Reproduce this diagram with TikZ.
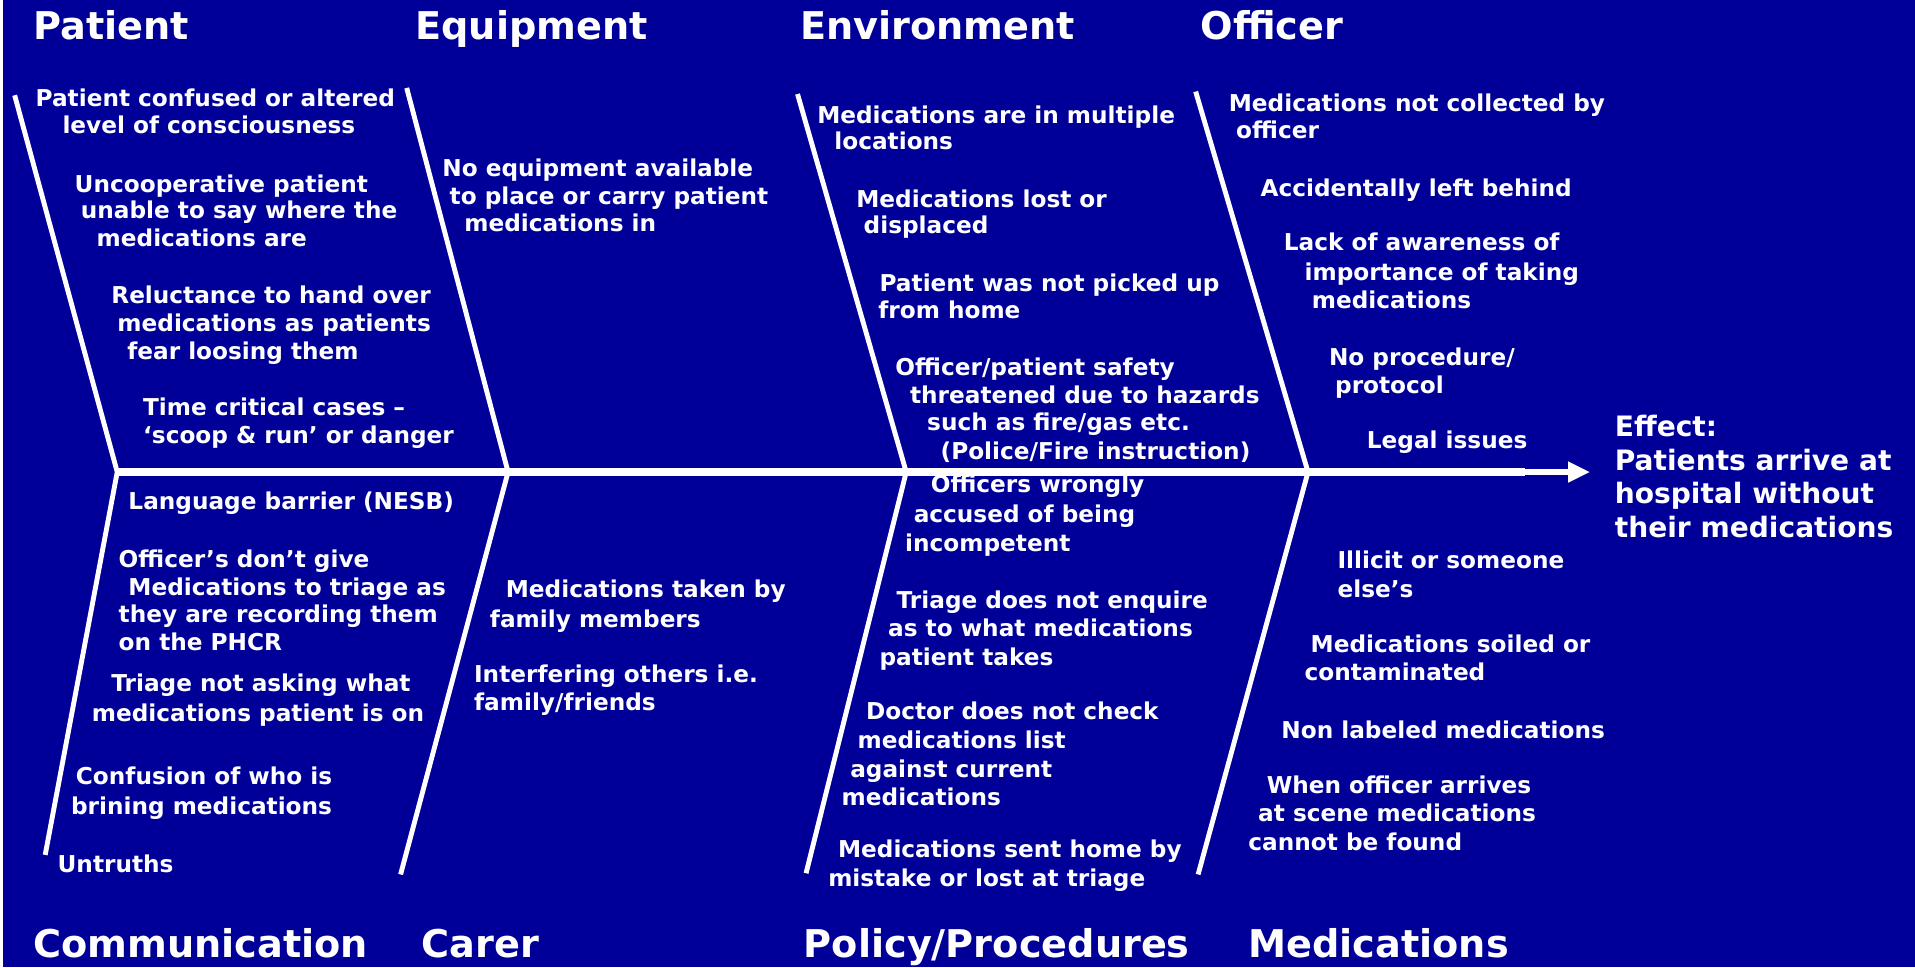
\documentclass[tikz,border=0pt]{standalone}
\usepackage{fontspec}
\setmainfont{DejaVu Sans}
\usetikzlibrary{arrows.meta}
\definecolor{bgblue}{RGB}{0,0,153}
\newcommand{\fbl}[4]{\node[it] (#1) at (#2,#3+6.5) {#4};}
\begin{document}
\begin{tikzpicture}[x=1pt,y=-1pt,
  it/.style={anchor=base west, inner sep=0pt, text=white, font=\bfseries\fontsize{19}{22}\selectfont},
  ttl/.style={anchor=base west, inner sep=0pt, text=white, font=\bfseries\fontsize{31.3}{36}\selectfont},
  eff/.style={anchor=base west, inner sep=0pt, text=white, font=\bfseries\fontsize{23}{28}\selectfont},
  bone/.style={draw=white, line width=4pt},
  spine/.style={draw=white, line width=6.5pt}]
\useasboundingbox (0,0) rectangle (1568,792);
\fill[white] (0,0) rectangle (2.5,792);
\fill[bgblue] (2.5,0) rectangle (1568,792);
% spine junctions
\coordinate (j1) at (96,386.5);
\coordinate (j2) at (416,386.5);
\coordinate (j3) at (742,386.5);
\coordinate (j4) at (1071,386.5);
\coordinate (thin) at (1249,386.5);
\coordinate (tip) at (1302,386.5);
\coordinate (t1) at (12,78);
\coordinate (t2) at (333,72);
\coordinate (t3) at (653,77);
\coordinate (t4) at (979,75);
\coordinate (b1) at (37,700);
\coordinate (b2) at (328,716);
\coordinate (b3) at (660,715);
\coordinate (b4) at (981,716);
\draw[spine] (j1) -- (thin);
\draw[draw=white, line width=4.5pt, -{Triangle[length=18pt,width=16pt]}] (thin) -- (tip);
\draw[bone] (t1) -- (j1) -- (b1);
\draw[bone] (t2) -- (j2) -- (b2);
\draw[bone] (t3) -- (j3) -- (b3);
\draw[bone] (t4) -- (j4) -- (b4);
% titles
\node[ttl] (hPat) at (27,32) {Patient};
\node[ttl] (hEqu) at (340,32) {Equipment};
\node[ttl] (hEnv) at (655,32) {Environment};
\node[ttl] (hOff) at (983,32) {Officer};
\node[ttl] (hCom) at (27,784) {Communication};
\node[ttl] (hCar) at (345,784) {Carer};
\node[ttl] (hPol) at (658,784) {Policy/Procedures};
\node[ttl] (hMed) at (1022,784) {Medications};
% effect
\node[eff] (e1) at (1322,357) {Effect:};
\node[eff] (e2) at (1322,385) {Patients arrive at};
\node[eff] (e3) at (1322,412) {hospital without};
\node[eff] (e4) at (1322,440) {their medications};
% patient
\fbl{pa1}{29}{81}{Patient confused or altered}
\fbl{pa2}{51}{103}{level of consciousness}
\fbl{pa3}{61}{151}{Uncooperative patient}
\fbl{pa4}{66}{172}{unable to say where the}
\fbl{pa5}{79}{195}{medications are}
\fbl{pa6}{91}{242}{Reluctance to hand over}
\fbl{pa7}{96}{265}{medications as patients}
\fbl{pa8}{104}{288}{fear loosing them}
\fbl{pa9}{117}{334}{Time critical cases –}
\fbl{pa10}{117}{357}{‘scoop \& run’ or danger}
% equipment
\fbl{eq1}{362}{138}{No equipment available}
\fbl{eq2}{368}{161}{to place or carry patient}
\fbl{eq3}{380}{183}{medications in}
% environment
\fbl{en1}{669}{95}{Medications are in multiple}
\fbl{en2}{683}{116}{locations}
\fbl{en3}{701}{163}{Medications lost or}
\fbl{en4}{707}{185}{displaced}
\fbl{en5}{720}{232}{Patient was not picked up}
\fbl{en6}{719}{254}{from home}
\fbl{en7}{733}{301}{Officer/patient safety}
\fbl{en8}{745}{324}{threatened due to hazards}
\fbl{en9}{759}{346}{such as fire/gas etc.}
\fbl{en10}{770}{370}{(Police/Fire instruction)}
% officer
\fbl{of1}{1006}{85}{Medications not collected by}
\fbl{of2}{1012}{107}{officer}
\fbl{of3}{1032}{154}{Accidentally left behind}
\fbl{of4}{1051}{199}{Lack of awareness of}
\fbl{of5}{1068}{223}{importance of taking}
\fbl{of6}{1074}{246}{medications}
\fbl{of7}{1088}{293}{No procedure/}
\fbl{of8}{1093}{316}{protocol}
\fbl{of9}{1119}{361}{Legal issues}
% communication
\fbl{co1}{105}{411}{Language barrier (NESB)}
\fbl{co2}{97}{458}{Officer’s don’t give}
\fbl{co3}{105}{481}{Medications to triage as}
\fbl{co4}{97}{503}{they are recording them}
\fbl{co5}{97}{526}{on the PHCR}
\fbl{co6}{91}{560}{Triage not asking what}
\fbl{co7}{75}{584}{medications patient is on}
\fbl{co8}{62}{636}{Confusion of who is}
\fbl{co9}{58}{660}{brining medications}
\fbl{co10}{47}{708}{Untruths}
% carer
\fbl{ca1}{414}{483}{Medications taken by}
\fbl{ca2}{401}{507}{family members}
\fbl{ca3}{388}{552}{Interfering others i.e.}
\fbl{ca4}{388}{575}{family/friends}
% policy
\fbl{po1}{762}{397}{Officers wrongly}
\fbl{po2}{748}{421}{accused of being}
\fbl{po3}{741}{445}{incompetent}
\fbl{po4}{734}{492}{Triage does not enquire}
\fbl{po5}{727}{515}{as to what medications}
\fbl{po6}{720}{538}{patient takes}
\fbl{po7}{709}{583}{Doctor does not check}
\fbl{po8}{702}{606}{medications list}
\fbl{po9}{696}{630}{against current}
\fbl{po10}{689}{653}{medications}
\fbl{po11}{686}{696}{Medications sent home by}
\fbl{po12}{678}{719}{mistake or lost at triage}
% medications
\fbl{me1}{1095}{459}{Illicit or someone}
\fbl{me2}{1095}{483}{else’s}
\fbl{me3}{1073}{528}{Medications soiled or}
\fbl{me4}{1068}{551}{contaminated}
\fbl{me5}{1049}{598}{Non labeled medications}
\fbl{me6}{1037}{643}{When officer arrives}
\fbl{me7}{1030}{666}{at scene medications}
\fbl{me8}{1022}{690}{cannot be found}
\end{tikzpicture}
\end{document}
